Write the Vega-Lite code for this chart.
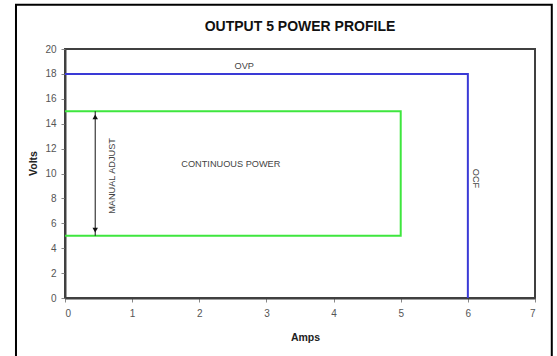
{
  "$schema": "https://vega.github.io/schema/vega-lite/v6.json",
  "width": 470,
  "height": 249,
  "autosize": {"type": "none"},
  "padding": {"left": 65, "top": 49, "right": 22, "bottom": 58},
  "background": "white",
  "title": {
    "text": "OUTPUT 5 POWER PROFILE",
    "anchor": "middle",
    "fontSize": 14,
    "fontWeight": "bold",
    "font": "Liberation Sans",
    "color": "#111",
    "offset": -30
  },
  "config": {
    "view": {"stroke": "#404040", "strokeWidth": 2},
    "font": "Liberation Sans",
    "axis": {
      "grid": false,
      "domainColor": "#404040",
      "domainWidth": 2,
      "tickColor": "#888",
      "tickSize": 4,
      "labelColor": "#555",
      "labelFontSize": 10,
      "labelFont": "Liberation Sans",
      "labelOverlap": false,
      "titleFont": "Liberation Sans",
      "titleFontSize": 10.5,
      "titleFontWeight": "bold",
      "titleColor": "#222"
    }
  },
  "datasets": {
    "lines": [
      {"series": "OVP/OCF", "order": 1, "amps": 0, "volts": 18},
      {"series": "OVP/OCF", "order": 2, "amps": 6, "volts": 18},
      {"series": "OVP/OCF", "order": 3, "amps": 6, "volts": 0},
      {"series": "Continuous", "order": 1, "amps": 0, "volts": 15},
      {"series": "Continuous", "order": 2, "amps": 5, "volts": 15},
      {"series": "Continuous", "order": 3, "amps": 5, "volts": 5},
      {"series": "Continuous", "order": 4, "amps": 0, "volts": 5}
    ],
    "arrow": [
      {"amps": 0.45, "volts": 5, "high": 15}
    ],
    "heads": [
      {"amps": 0.45, "volts": 14.55, "shape": "triangle-up"},
      {"amps": 0.45, "volts": 5.45, "shape": "triangle-down"}
    ],
    "labels": [
      {"label": "OVP", "amps": 2.67, "volts": 18.6, "angle": 0},
      {"label": "CONTINUOUS POWER", "amps": 2.47, "volts": 10.8, "angle": 0},
      {"label": "MANUAL ADJUST", "amps": 0.7, "volts": 9.8, "angle": 270},
      {"label": "OCF", "amps": 6.12, "volts": 9.6, "angle": 90}
    ],
    "frame": [
      {"amps": -0.73, "x2": 7.25, "volts": 23.55, "y2": -5}
    ]
  },
  "encoding": {
    "x": {"field": "amps", "type": "quantitative", "scale": {"domain": [0, 7], "nice": false},
      "axis": {"values": [0, 1, 2, 3, 4, 5, 6, 7], "format": "d", "labelOverlap": false, "title": "Amps", "titlePadding": 14, "labelPadding": 6, "titleX": 240, "titleAnchor": "middle"}},
    "y": {"field": "volts", "type": "quantitative", "scale": {"domain": [0, 20], "nice": false},
      "axis": {"values": [0, 2, 4, 6, 8, 10, 12, 14, 16, 18, 20], "format": "d", "labelOverlap": false, "title": "Volts", "titlePadding": 6, "labelPadding": 5, "titleY": 114}}
  },
  "layer": [
    {
      "data": {"name": "lines"},
      "mark": {"type": "line", "strokeWidth": 2},
      "encoding": {
        "color": {"field": "series", "type": "nominal", "scale": {"domain": ["OVP/OCF", "Continuous"], "range": ["#3a3ad6", "#3ee63e"]}, "legend": null},
        "detail": {"field": "series"},
        "order": {"field": "order", "type": "quantitative"}
      }
    },
    {
      "data": {"name": "arrow"},
      "mark": {"type": "rule", "color": "#111", "strokeWidth": 1},
      "encoding": {
        "y2": {"field": "high"}
      }
    },
    {
      "data": {"name": "heads"},
      "mark": {"type": "point", "filled": true, "color": "#111", "size": 30, "opacity": 1},
      "encoding": {
        "shape": {"field": "shape", "type": "nominal", "scale": {"domain": ["triangle-up", "triangle-down"], "range": ["triangle-up", "triangle-down"]}, "legend": null}
      }
    },
    {
      "data": {"name": "labels"},
      "mark": {"type": "text", "fontSize": 9.2, "color": "#444", "font": "Liberation Sans"},
      "encoding": {
        "text": {"field": "label"},
        "angle": {"field": "angle", "type": "quantitative", "scale": null}
      }
    },
    {
      "data": {"name": "frame"},
      "mark": {"type": "rect", "fill": "transparent", "stroke": "#000", "strokeWidth": 2, "clip": false},
      "encoding": {
        "x2": {"field": "x2"},
        "y2": {"field": "y2"}
      }
    }
  ]
}
